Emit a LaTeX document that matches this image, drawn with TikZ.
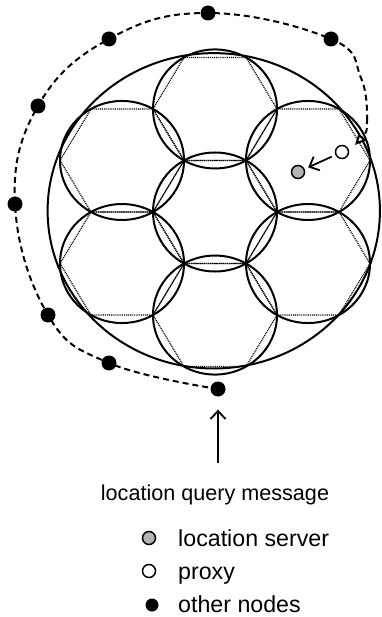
\documentclass[tikz,border=0pt]{standalone}
\usepackage{fontspec}
\setmainfont{Liberation Sans}
\usetikzlibrary{arrows.meta,positioning}
\definecolor{ServerGray}{HTML}{B4B4B4}

\begin{document}
\begin{tikzpicture}[x=1pt,y=-1pt,
    cell/.style={line width=2pt},
    hexedge/.style={line width=1.2pt,dash pattern=on 1pt off 0.9pt},
    hop/.style={circle,fill=black,inner sep=0pt,minimum size=15pt},
    proxy/.style={circle,draw,line width=1.5pt,fill=white,inner sep=0pt,minimum size=13pt},
    server/.style={proxy,fill=ServerGray},
    route/.style={line width=2pt,dash pattern=on 6pt off 4pt},
    msg/.style={-{Straight Barb[length=8pt,width=15pt]},line width=1.8pt},
    msgtext/.style={font=\fontsize{21.6}{26}\selectfont,inner sep=0pt},
    legendtext/.style={font=\fontsize{23.2}{28}\selectfont,inner sep=0pt,anchor=base west}
  ]
  \useasboundingbox (0,0) rectangle (381,617);
  % seven cells with their hexagons
  \begin{scope}[shift={(215,212)},x=62pt,y=59.5pt]
    \foreach \cx/\cy in {0/0,0/1.732,0/-1.732,1.5/0.866,1.5/-0.866,-1.5/0.866,-1.5/-0.866}{
      \begin{scope}[shift={(\cx,\cy)}]
        \draw[cell] (0,0) circle[radius=1];
        \draw[hexedge] (1,0) -- (0.5,0.866) -- (-0.5,0.866) -- (-1,0) -- (-0.5,-0.866) -- (0.5,-0.866) -- cycle;
      \end{scope}
    }
    \draw[cell] (-0.02,0.02) circle[x radius=2.68,y radius=2.65];
  \end{scope}
  % other nodes on the route
  \node[hop] (d1) at (331,39) {};
  \node[hop] (d2) at (208,13) {};
  \node[hop] (d3) at (109,39) {};
  \node[hop] (d4) at (38,106) {};
  \node[hop] (d5) at (15,204) {};
  \node[hop] (d6) at (48,315) {};
  \node[hop] (d7) at (109,363) {};
  \node[hop] (d8) at (218,389) {};
  \coordinate (r1) at (361,78);
  \coordinate (r2) at (367,118);
  \coordinate (rtip) at (355,145);
  \draw[route] plot[smooth,tension=0.7] coordinates {(d8) (d7) (d6) (d5) (d4) (d3) (d2) (d1) (r1) (r2)};
  \draw[route,-{Triangle[open,length=11pt,width=10pt,fill=white]}] (r2) .. controls (367,132) .. (rtip);
  % proxy and location server
  \node[proxy] (px) at (342,152) {};
  \node[server] (ls) at (298,172) {};
  \draw[msg,shorten <=4pt,shorten >=4pt] (px) -- (ls);
  % query
  \node[msgtext,anchor=base] (qm) at (215,500) {location query message};
  \coordinate (qtail) at (218,463);
  \draw[msg,shorten >=13pt] (qtail) -- (d8);
  % legend
  \node[server] (lgs) at (149,538) {};
  \node[proxy] (lgp) at (149,571) {};
  \node[hop,minimum size=13pt] (lgo) at (152,605) {};
  \node[legendtext] (lgst) at (178,546) {location server};
  \node[legendtext] (lgpt) at (178,579) {proxy};
  \node[legendtext] (lgot) at (178,612) {other nodes};
\end{tikzpicture}
\end{document}
